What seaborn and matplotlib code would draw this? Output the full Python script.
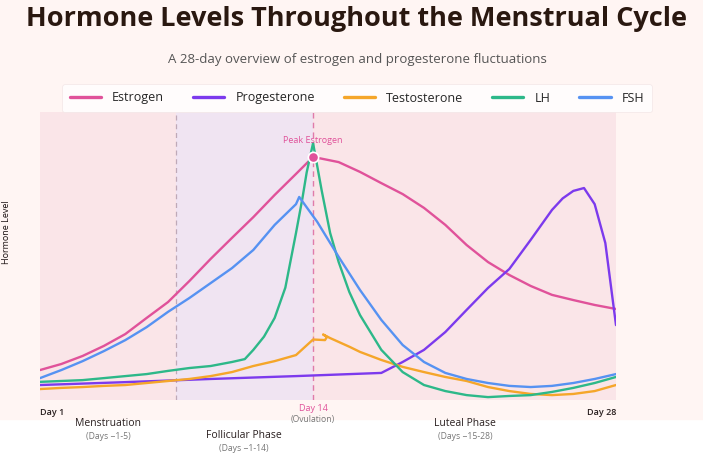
import matplotlib
matplotlib.use("Agg")
import matplotlib.pyplot as plt
from matplotlib.patches import Rectangle
import seaborn as sns
import pandas as pd

# Values (day of cycle, relative hormone level 0-100)
estrogen_days = [1, 2, 3, 4, 5, 6, 7, 8, 9, 10, 11, 12, 13, 13.8, 15, 16, 17, 18, 19, 20, 21, 22, 23, 24, 25, 26, 27, 28]
estrogen_vals = [10.4, 12.5, 15.3, 18.8, 22.9, 28.5, 34.0, 41.3, 49.0, 56.3, 63.5, 71.2, 78.5, 84.4,
                 82.6, 79.2, 75.3, 71.5, 66.7, 60.8, 53.8, 47.9, 43.4, 39.6, 36.5, 34.7, 33.0, 31.6]

progesterone_days = [1, 5, 9, 13, 17, 18, 19, 20, 21, 22, 23, 24, 25, 25.5, 26, 26.5, 27, 27.5, 28]
progesterone_vals = [5.2, 6.2, 7.3, 8.3, 9.4, 13.2, 17.4, 23.6, 31.3, 38.9, 45.5, 55.6, 66.0, 70.0, 72.6, 73.6, 68.0, 54.5, 26.0]

testosterone_days = [1, 2, 3, 4, 5, 6, 7, 8, 9, 10, 11, 12, 13, 13.8, 14.36, 14.45, 14.27, 13.8,
                     14.27, 14.6, 15.53, 16, 17, 18, 19, 20, 21, 22, 23, 24, 25, 26, 27, 28]
testosterone_vals = [3.8, 4.2, 4.5, 4.9, 5.2, 5.9, 6.6, 7.3, 8.3, 9.7, 11.8, 13.5, 15.6, 18.4, 20.8, 21.9, 22.9, 23.6,
                     22.6, 21.5, 18.4, 16.7, 13.9, 11.5, 9.7, 8.0, 6.6, 4.5, 3.1, 2.1, 1.7, 2.1, 3.1, 5.2]

lh_days = [1, 2, 3, 4, 5, 6, 7, 8, 9, 10, 10.6, 11, 11.5, 12, 12.5, 13, 13.3, 13.5, 13.8, 14.2, 14.6,
           15, 15.5, 16, 17, 18, 19, 20, 21, 22, 23, 24, 25, 26, 27, 28]
lh_vals = [6.3, 6.6, 6.9, 7.6, 8.3, 9.0, 10.1, 11.1, 11.8, 13.2, 14.2, 17.4, 22.0, 28.5, 39.0, 58.0, 70.0, 79.0, 89.2,
           72.9, 58.0, 47.9, 37.5, 29.5, 17.4, 9.7, 5.2, 3.1, 1.7, 1.0, 1.4, 1.7, 2.8, 4.2, 5.9, 8.0]

fsh_days = [1, 2, 3, 4, 5, 6, 7, 8, 9, 10, 11, 12, 13, 13.15, 14, 15, 16, 17, 18, 19, 20, 21, 22, 23, 24, 25, 26, 27, 28]
fsh_vals = [7.6, 10.4, 13.5, 17.0, 20.8, 25.3, 30.6, 35.4, 40.6, 45.8, 52.1, 60.8, 68.0, 70.5,
            61.8, 49.7, 38.2, 27.8, 19.1, 13.2, 9.4, 7.3, 5.9, 4.9, 4.5, 4.9, 5.9, 7.3, 9.0]

series = [
    ("Estrogen", estrogen_days, estrogen_vals, "#E0529A"),
    ("Progesterone", progesterone_days, progesterone_vals, "#7C3AED"),
    ("Testosterone", testosterone_days, testosterone_vals, "#F5A62A"),
    ("LH", lh_days, lh_vals, "#2DB889"),
    ("FSH", fsh_days, fsh_vals, "#5692F2"),
]

ovulation_day = 13.8
menstruation_end = 7.375
peak_estrogen = (13.8, 84.4)

sns.set_style("white")
plt.rcParams["font.family"] = ["Open Sans", "DejaVu Sans"]

fig = plt.figure(figsize=(7.03, 4.59), dpi=100, facecolor="white")
# light blush background behind the top part of the figure
fig.patches.append(Rectangle((0, 1 - 419 / 459), 1, 419 / 459, transform=fig.transFigure,
                             color="#FFF5F3", zorder=-10))

ax = fig.add_axes([40 / 703, 1 - 400 / 459, 576 / 703, 288 / 459])
ax.set_facecolor("#FAE5E8")

# phase bands
ax.axvspan(menstruation_end, ovulation_day, color="#F0E4F2", zorder=0, lw=0)
ax.axvline(menstruation_end, color="#BFA9B8", ls=(0, (4, 3)), lw=0.9, zorder=1)
ax.axvline(ovulation_day, color="#E07BAA", ls=(0, (4, 3)), lw=1.0, zorder=1)

for name, days, vals, color in series:
    df = pd.DataFrame({"day": days, "level": vals})
    sns.lineplot(data=df, x="day", y="level", ax=ax, color=color, lw=1.7, sort=False,
                 label=name, zorder=3)

ax.scatter([peak_estrogen[0]], [peak_estrogen[1]], s=55, color="#E0529A", edgecolor="white",
           linewidth=1.2, zorder=5)
ax.text(peak_estrogen[0], peak_estrogen[1] + 4.2, "Peak Estrogen", color="#E0529A",
        fontsize=6.5, ha="center", va="bottom", zorder=6)

ax.set_xlim(1, 28)
ax.set_ylim(0, 100)
ax.set_xticks([])
ax.set_yticks([])
ax.set_xlabel("")
ax.set_ylabel("")
for s in ax.spines.values():
    s.set_visible(False)

ax.get_legend().remove()
handles, labels = ax.get_legend_handles_labels()
leg = fig.legend(handles, labels, loc="center", bbox_to_anchor=(357 / 703, 1 - 98 / 459), ncol=5,
                 frameon=True, fancybox=True, fontsize=9, handlelength=2.5, columnspacing=2.3,
                 handletextpad=0.9, borderpad=0.6, borderaxespad=0)
leg.get_frame().set_facecolor("white")
leg.get_frame().set_edgecolor("#F3E6E6")
leg.get_frame().set_linewidth(0.6)
for line in leg.get_lines():
    line.set_linewidth(2.4)

# axis annotations
tx = ax.get_xaxis_transform()
ax.text(1, -0.042, "Day 1", transform=tx, ha="left", va="center", fontsize=6.5,
        color="#2A2020", fontweight="semibold")
ax.text(28, -0.042, "Day 28", transform=tx, ha="right", va="center", fontsize=6.5,
        color="#2A2020", fontweight="semibold")
ax.text(ovulation_day, -0.028, "Day 14", transform=tx, ha="center", va="center", fontsize=6.5,
        color="#E0529A")
ax.text(ovulation_day, -0.066, "(Ovulation)", transform=tx, ha="center", va="center", fontsize=6.2,
        color="#777777")

phase_labels = [
    ("Menstruation", "(Days ~1-5)", 4.19, -0.080, -0.128),
    ("Follicular Phase", "(Days ~1-14)", 10.56, -0.122, -0.170),
    ("Luteal Phase", "(Days ~15-28)", 20.92, -0.080, -0.128),
]
for title, sub, x, y1, y2 in phase_labels:
    ax.text(x, y1, title, transform=tx, ha="center", va="center", fontsize=7.5, color="#2A2020")
    ax.text(x, y2, sub, transform=tx, ha="center", va="center", fontsize=6.2, color="#777777")

fig.text(7 / 703, 1 - 232 / 459, "Hormone Level", rotation=90, ha="center", va="center",
         fontsize=6.5, color="#1A1010")

fig.text(357 / 703, 1 - 19 / 459, "Hormone Levels Throughout the Menstrual Cycle", ha="center",
         va="center", fontsize=19.5, fontweight="bold", color="#2A1810")
fig.text(357 / 703, 1 - 60 / 459, "A 28-day overview of estrogen and progesterone fluctuations",
         ha="center", va="center", fontsize=9.5, color="#555555")

fig.savefig("out.png", dpi=100, facecolor=fig.get_facecolor())
